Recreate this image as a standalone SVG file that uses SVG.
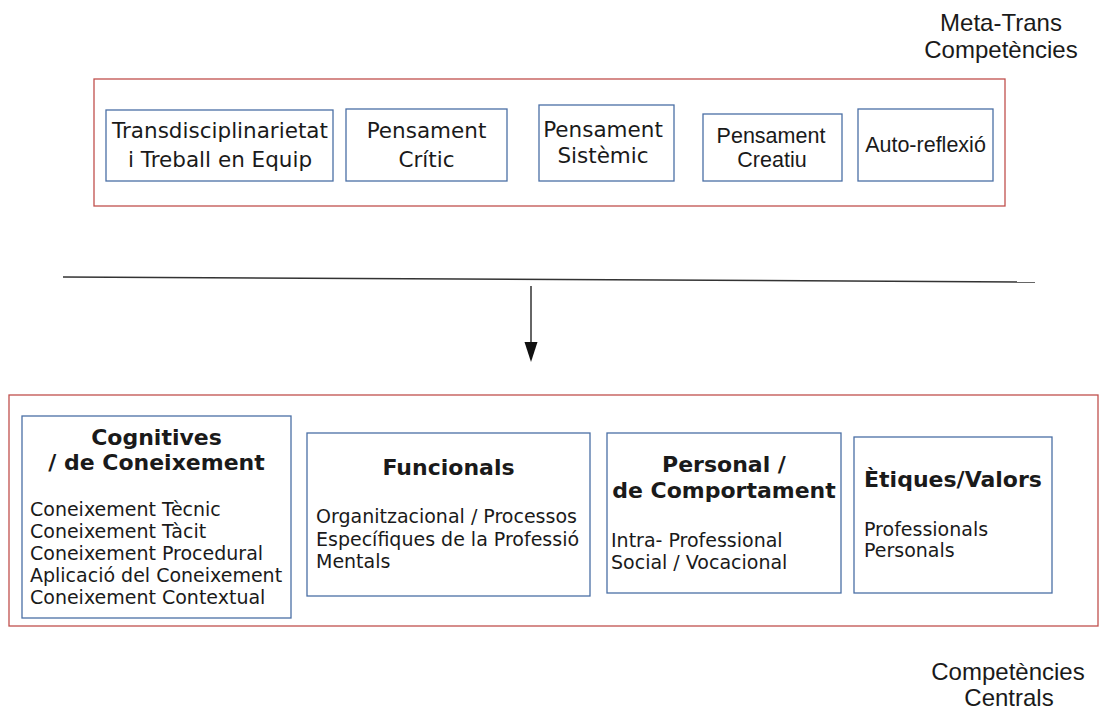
<svg xmlns="http://www.w3.org/2000/svg" width="1103" height="715" viewBox="0 0 1103 715">
<style>
.outer{fill:none;stroke:#c0504d;stroke-width:1.3}
.box{fill:#fff;stroke:#4a6fa5;stroke-width:1.3}
.dv{font-family:"DejaVu Sans",sans-serif;fill:#1a1a1a}
.ar{font-family:"Liberation Sans",Arial,sans-serif;fill:#1a1a1a}
.t21{font-size:21.5px}
.lbl{font-size:24px}
.hd{font-size:22px;font-weight:bold}
.bd{font-size:19px}
.mid{text-anchor:middle}
.conn{stroke:#333;stroke-width:1.5;fill:none}
</style>
<rect width="1103" height="715" fill="#fff"/>
<g id="label-meta">
<text class="ar lbl mid" x="1001" y="31">Meta-Trans</text>
<text class="ar lbl mid" x="1001" y="58">Competències</text>
</g>
<g id="group-meta">
<rect class="outer" x="94" y="79" width="911" height="127"/>
</g>
<g id="n1">
<rect class="box" x="106" y="110" width="227" height="71"/>
<text class="dv t21 mid" x="220" y="138">Transdisciplinarietat</text>
<text class="dv t21 mid" x="220" y="167">i Treball en Equip</text>
</g>
<g id="n2">
<rect class="box" x="346" y="109" width="161" height="72"/>
<text class="dv t21 mid" x="426.5" y="138">Pensament</text>
<text class="dv t21 mid" x="426.5" y="167">Crític</text>
</g>
<g id="n3">
<rect class="box" x="539" y="105" width="135" height="76"/>
<text class="dv t21 mid" x="603" y="137">Pensament</text>
<text class="dv t21 mid" x="603" y="163">Sistèmic</text>
</g>
<g id="n4">
<rect class="box" x="703" y="114" width="139" height="67"/>
<text class="ar t21 mid" x="771" y="143">Pensament</text>
<text class="ar t21 mid" x="772" y="167">Creatiu</text>
</g>
<g id="n5">
<rect class="box" x="858" y="109" width="135" height="72"/>
<text class="ar t21 mid" x="925.5" y="152">Auto-reflexió</text>
</g>
<g id="connectors">
<line class="conn" x1="63" y1="277" x2="1035" y2="282"/>
<line class="conn" x1="531" y1="286" x2="531" y2="344"/>
<polygon points="524.5,342 537.5,342 531,362" fill="#111"/>
</g>
<g id="group-central">
<rect class="outer" x="9" y="395" width="1089" height="231"/>
</g>
<g id="c1">
<rect class="box" x="22" y="416" width="269" height="202"/>
<text class="dv hd mid" x="156.5" y="445">Cognitives</text>
<text class="dv hd mid" x="156.5" y="470">/ de Coneixement</text>
<text class="dv bd" x="30" y="516">Coneixement Tècnic</text>
<text class="dv bd" x="30" y="538">Coneixement Tàcit</text>
<text class="dv bd" x="30" y="560">Coneixement Procedural</text>
<text class="dv bd" x="30" y="582">Aplicació del Coneixement</text>
<text class="dv bd" x="30" y="604">Coneixement Contextual</text>
</g>
<g id="c2">
<rect class="box" x="307" y="433" width="283" height="163"/>
<text class="dv hd mid" x="448.5" y="475">Funcionals</text>
<text class="dv bd" x="316" y="523">Organitzacional / Processos</text>
<text class="dv bd" x="316" y="546">Específiques de la Professió</text>
<text class="dv bd" x="316" y="568">Mentals</text>
</g>
<g id="c3">
<rect class="box" x="607" y="433" width="234" height="160"/>
<text class="dv hd mid" x="724" y="472">Personal /</text>
<text class="dv hd mid" x="724" y="498">de Comportament</text>
<text class="dv bd" x="611" y="547">Intra- Professional</text>
<text class="dv bd" x="611" y="569">Social / Vocacional</text>
</g>
<g id="c4">
<rect class="box" x="854" y="437" width="198" height="156"/>
<text class="dv hd mid" x="953" y="487">Ètiques/Valors</text>
<text class="dv bd" x="864" y="536">Professionals</text>
<text class="dv bd" x="864" y="557">Personals</text>
</g>
<g id="label-central">
<text class="ar lbl mid" x="1008" y="680">Competències</text>
<text class="ar lbl mid" x="1009" y="706">Centrals</text>
</g>
</svg>
